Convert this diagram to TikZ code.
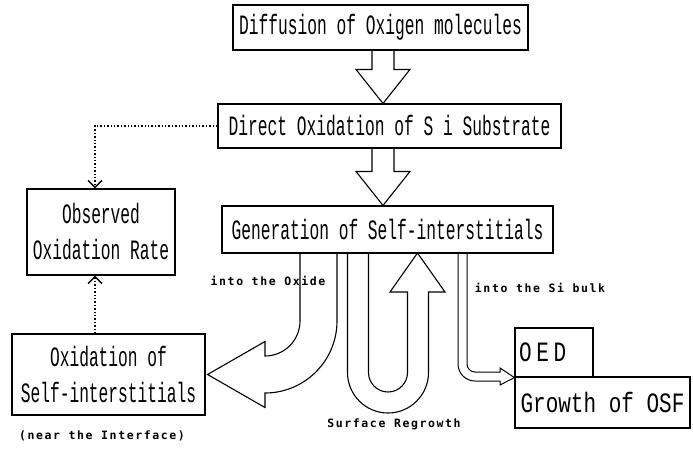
\documentclass[tikz,border=0pt]{standalone}
\usepackage{fontspec}
\newfontfamily\plotfont[FakeStretch=0.58]{Liberation Mono}
\newfontfamily\plotwide[FakeStretch=0.75]{Liberation Mono}
\newfontfamily\labfont[LetterSpace=14]{DejaVu Sans Mono Bold}
\usetikzlibrary{arrows.meta,calc}
\begin{document}
\begin{tikzpicture}[x=1pt,y=-1pt,line width=1.1pt,
  box/.style={draw,inner sep=0pt,align=center,font=\plotfont\fontsize{28}{36}\selectfont},
  widebox/.style={draw,inner sep=0pt,align=center,font=\plotwide\fontsize{28}{36}\selectfont},
  blk/.style={draw,line join=miter},
  dot/.style={dotted,line width=1.4pt,-{Straight Barb[length=7pt,width=14pt]}},
  lab/.style={inner sep=0pt,font=\labfont\fontsize{11.5}{13}\selectfont}]
\path[use as bounding box,fill=white] (0,0) rectangle (693,448);

% boxes
\node[box,minimum width=295pt,minimum height=45pt] (b1) at (380.5,27.5) {Diffusion of Oxigen molecules};
\node[box,minimum width=343pt,minimum height=44pt] (b2) at (389.5,126) {Direct Oxidation of S i Substrate};
\node[box,minimum width=331pt,minimum height=47pt] (b3) at (387.5,229.5) {Generation of Self-interstitials};
\node[box,minimum width=148pt,minimum height=86pt] (obs) at (101,232) {Observed\\Oxidation Rate};
\node[box,minimum width=193pt,minimum height=81pt] (oxs) at (108.5,374.5) {Oxidation of\\Self-interstitials};
\node[widebox,minimum width=175pt,minimum height=51pt] (osf) at (602.5,402.5) {Growth of OSF};
\node[widebox,minimum width=78pt,minimum height=49pt,text width=70pt,align=left] (oed) at (554,352.5) {O\,E\,D};

% labels
\node[lab] (l1) at (268,281) {into the Oxide};
\node[lab] (l2) at (540,288) {into the Si bulk};
\node[lab] (l3) at (394,424) {Surface Regrowth};
\node[lab] (l4) at (102,436) {(near the Interface)};

% hollow arrows between top boxes
\coordinate (ax) at (383,0);
\draw[blk] ($(ax |- b1.south)+(-11,0)$) -- ($(ax |- b2.north)+(-11,-34)$) -- ($(ax |- b2.north)+(-27,-34)$)
  -- (ax |- b2.north) -- ($(ax |- b2.north)+(27,-34)$) -- ($(ax |- b2.north)+(11,-34)$) -- ($(ax |- b1.south)+(11,0)$);
\draw[blk] ($(ax |- b2.south)+(-11,0)$) -- ($(ax |- b3.north)+(-11,-34)$) -- ($(ax |- b3.north)+(-27,-34)$)
  -- (ax |- b3.north) -- ($(ax |- b3.north)+(27,-34)$) -- ($(ax |- b3.north)+(11,-34)$) -- ($(ax |- b2.south)+(11,0)$);

% curved arrow into the oxide
\coordinate (oxtip) at ($(oxs.east)+(2,0)$);
\draw[blk] (300,253) -- (300,321) arc[start angle=0,end angle=90,radius=35]
  -- (265,341.5) -- (oxtip) -- (265,407.5) -- (265,393)
  arc[start angle=90,end angle=0,radius=72] -- (337,253);

% U-shaped arrow (surface regrowth)
\draw[blk] (347.5,253) -- (347.5,372.5) arc[start angle=180,end angle=0,radius=40.5]
  -- (428.5,292) -- (445,292) -- (417.5,253) -- (390,292) -- (407.5,292) -- (407.5,372.5)
  arc[start angle=0,end angle=180,radius=19.5] -- (368.5,253);

% small arrow into the Si bulk
\draw[blk,line width=1pt] (458,253) -- (458,364) arc[start angle=180,end angle=90,radius=17]
  -- (500,381) -- (500,385) -- (oed.south west) -- (500,368) -- (500,372) -- (475,372)
  arc[start angle=90,end angle=180,radius=8] -- (467,253);

% dotted arrows
\coordinate (dx) at (95,0);
\draw[dot] (b2.west) -| (dx |- obs.north);
\draw[dot] (dx |- oxs.north) -- (dx |- obs.south);
\end{tikzpicture}
\end{document}
